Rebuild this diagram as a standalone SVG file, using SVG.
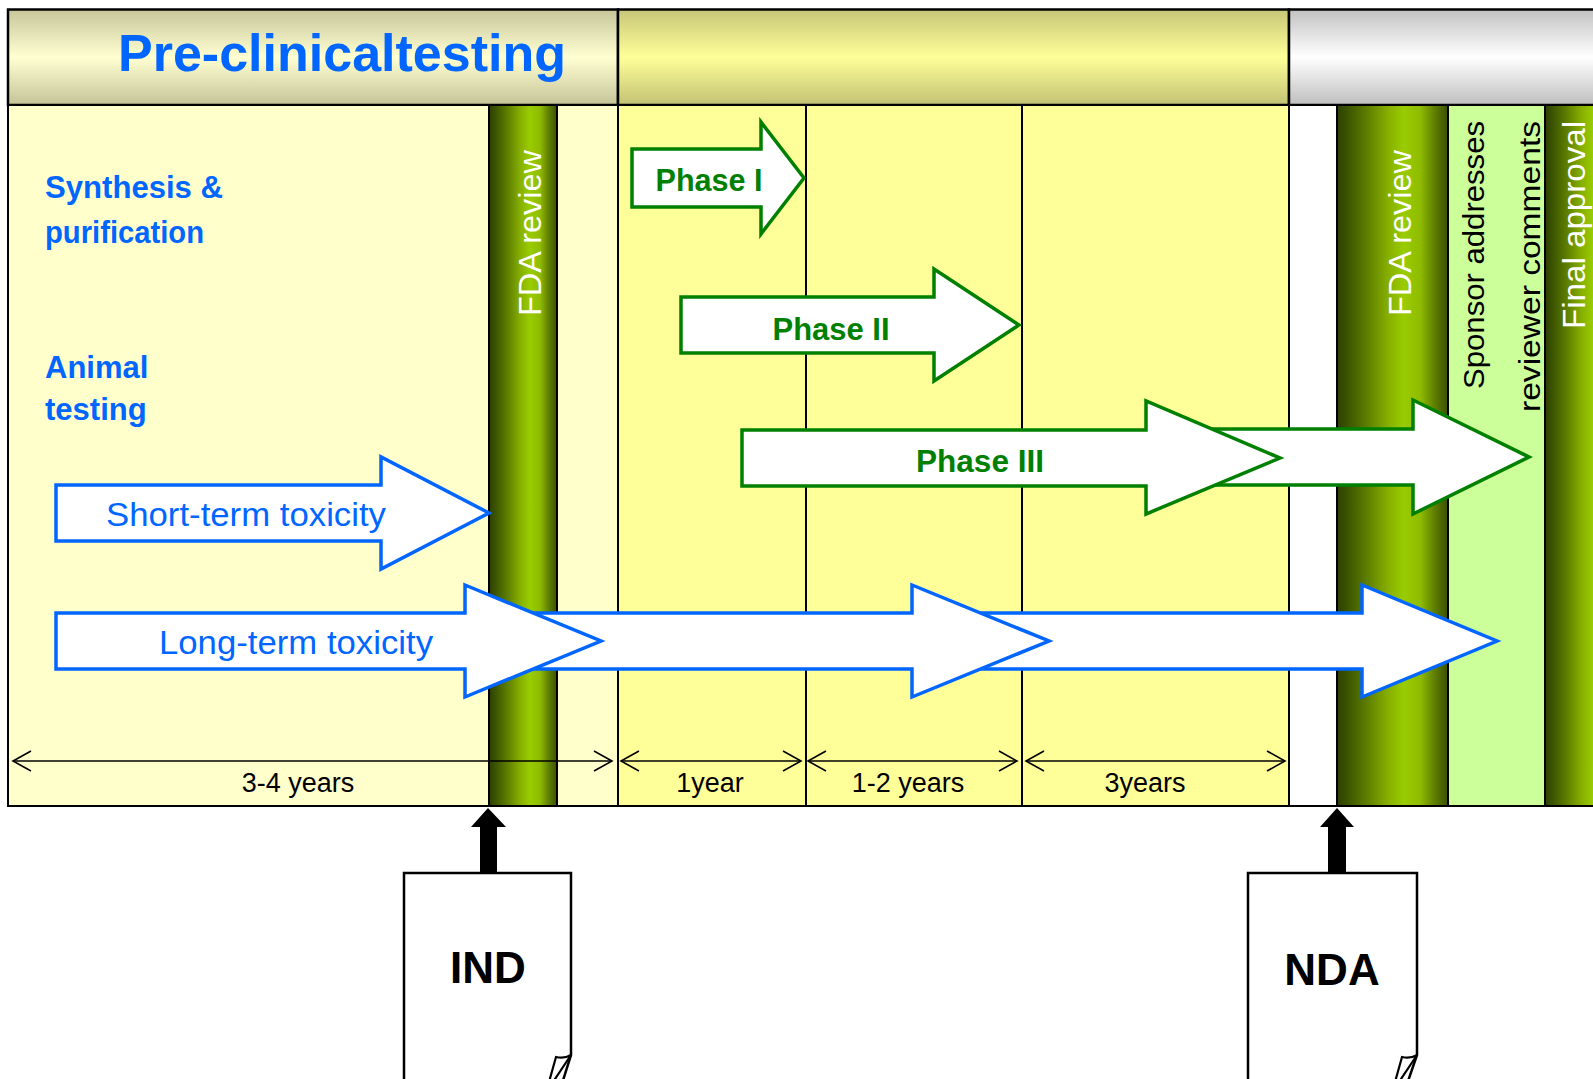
<svg xmlns="http://www.w3.org/2000/svg" width="1593" height="1079" viewBox="0 0 1593 1079">
<defs>
<linearGradient id="hdrL" x1="0" y1="0" x2="0" y2="1"><stop offset="0" stop-color="#c6c69a"/><stop offset="0.5" stop-color="#ffffd2"/><stop offset="1" stop-color="#c4c498"/></linearGradient>
<linearGradient id="hdrM" x1="0" y1="0" x2="0" y2="1"><stop offset="0" stop-color="#c6c678"/><stop offset="0.5" stop-color="#ffff99"/><stop offset="1" stop-color="#c2c274"/></linearGradient>
<linearGradient id="hdrR" x1="0" y1="0" x2="0" y2="1"><stop offset="0" stop-color="#c2c2c2"/><stop offset="0.5" stop-color="#ffffff"/><stop offset="1" stop-color="#bfbfbf"/></linearGradient>
<linearGradient id="fda" x1="0" y1="0" x2="1" y2="0"><stop offset="0" stop-color="#2c3e00"/><stop offset="0.12" stop-color="#405a00"/><stop offset="0.28" stop-color="#5f8000"/><stop offset="0.45" stop-color="#85ad00"/><stop offset="0.6" stop-color="#99cc00"/><stop offset="0.75" stop-color="#8fbc00"/><stop offset="0.88" stop-color="#5e7e00"/><stop offset="1" stop-color="#3a5000"/></linearGradient>
<marker id="dim" viewBox="-20 -12 22 24" refX="0" refY="0" markerWidth="22" markerHeight="24" markerUnits="userSpaceOnUse" orient="auto-start-reverse"><path d="M-18,-10 L0,0 L-18,10" fill="none" stroke="#000" stroke-width="1.6"/></marker>
</defs>
<style>
text{font-family:"Liberation Sans",Arial,sans-serif}
.col{stroke:none}
.ln{stroke:#000;stroke-width:2;fill:none}
.blk{fill:#fff;stroke:#0066ff;stroke-width:3.5;stroke-linejoin:miter}
.grn{fill:#fff;stroke:#008000;stroke-width:3.5;stroke-linejoin:miter}
.bt{fill:#0066ff;font-size:33px}
.gt{fill:#008000;font-size:32px;font-weight:bold;text-anchor:middle}
.lbl{fill:#0066ff;font-size:31px;font-weight:bold}
.vt{fill:#fff;font-size:32px}
.dt{fill:#000;font-size:27px;text-anchor:middle}
.dl{stroke:#000;stroke-width:1.6;fill:none;marker-start:url(#dim);marker-end:url(#dim)}
.doc{fill:#fff;stroke:#000;stroke-width:2.5}
.dtx{fill:#000;font-size:44px;font-weight:bold;text-anchor:middle}
</style>
<rect width="1593" height="1079" fill="#fff"/>

<g id="header">
<rect x="8" y="9.5" width="610" height="95.5" fill="url(#hdrL)" stroke="#000" stroke-width="2.5"/>
<rect x="618" y="9.5" width="671" height="95.5" fill="url(#hdrM)" stroke="#000" stroke-width="2.5"/>
<rect x="1289" y="9.5" width="320" height="95.5" fill="url(#hdrR)" stroke="#000" stroke-width="2.5"/>
<text x="342" y="71" fill="#0066ff" font-size="52" font-weight="bold" text-anchor="middle">Pre-clinicaltesting</text>
</g>

<g id="columns">
<rect class="col" x="8" y="105" width="610" height="701" fill="#ffffcc"/>
<rect class="col" x="489" y="105" width="68" height="701" fill="url(#fda)"/>
<rect class="col" x="618" y="105" width="671" height="701" fill="#ffff99"/>
<rect class="col" x="1289" y="105" width="48" height="701" fill="#ffffff"/>
<rect class="col" x="1337" y="105" width="111" height="701" fill="url(#fda)"/>
<rect class="col" x="1448" y="105" width="97" height="701" fill="#ccff99"/>
<rect class="col" x="1545" y="105" width="80" height="701" fill="url(#fda)"/>
<path class="ln" d="M8,105 V806 H1600 M8,105 H1600 M489,105 V806 M557,105 V806 M618,105 V806 M806,105 V806 M1022,105 V806 M1289,105 V806 M1337,105 V806 M1448,105 V806 M1545,105 V806"/>
</g>

<g id="fda-review-1"><text class="vt" transform="translate(541,316) rotate(-90)" textLength="166" lengthAdjust="spacingAndGlyphs">FDA review</text></g>
<g id="fda-review-2"><text class="vt" transform="translate(1411,316) rotate(-90)" textLength="166" lengthAdjust="spacingAndGlyphs">FDA review</text></g>
<g id="sponsor">
<text transform="translate(1484,389) rotate(-90)" fill="#000" font-size="30" textLength="268" lengthAdjust="spacingAndGlyphs">Sponsor addresses</text>
<text transform="translate(1540,412) rotate(-90)" fill="#000" font-size="30" textLength="291" lengthAdjust="spacingAndGlyphs">reviewer comments</text>
</g>
<g id="final-approval"><text class="vt" transform="translate(1585,329) rotate(-90)" textLength="208" lengthAdjust="spacingAndGlyphs">Final approval</text></g>

<g id="synthesis">
<text class="lbl" x="45" y="198" textLength="178" lengthAdjust="spacingAndGlyphs">Synthesis  &amp;</text>
<text class="lbl" x="45" y="243" textLength="159" lengthAdjust="spacingAndGlyphs">purification</text>
</g>
<g id="animal">
<text class="lbl" x="45" y="378">Animal</text>
<text class="lbl" x="45" y="420">testing</text>
</g>

<g id="phase1">
<path class="grn" d="M632,149 L761,149 L761,122 L804,178 L761,234 L761,207 L632,207 Z"/>
<text class="gt" x="709" y="191" textLength="107" lengthAdjust="spacingAndGlyphs">Phase  I</text>
</g>
<g id="phase2">
<path class="grn" d="M681,297 L934,297 L934,269 L1019,325 L934,381 L934,353 L681,353 Z"/>
<text class="gt" x="831" y="340" textLength="117" lengthAdjust="spacingAndGlyphs">Phase II</text>
</g>
<g id="phase3">
<path class="grn" d="M1165,429 L1413,429 L1413,400 L1529,457 L1413,514 L1413,485 L1165,485 Z"/>
<path class="grn" d="M742,430 L1146,430 L1146,401 L1280,458 L1146,514 L1146,486 L742,486 Z"/>
<text class="gt" x="980" y="472" textLength="128" lengthAdjust="spacingAndGlyphs">Phase  III</text>
</g>

<g id="short-term">
<path class="blk" d="M56,485 L381,485 L381,457 L489,513 L381,569 L381,541 L56,541 Z"/>
<text class="bt" x="246" y="526" text-anchor="middle" textLength="280" lengthAdjust="spacingAndGlyphs">Short-term  toxicity</text>
</g>
<g id="long-term">
<path class="blk" d="M940,613 L1362,613 L1362,585 L1497,641 L1362,697 L1362,669 L940,669 Z"/>
<path class="blk" d="M495,613 L912,613 L912,585 L1049,641 L912,697 L912,669 L495,669 Z"/>
<path class="blk" d="M56,613 L465,613 L465,585 L601,641 L465,697 L465,669 L56,669 Z"/>
<text class="bt" x="296" y="654" text-anchor="middle" textLength="274" lengthAdjust="spacingAndGlyphs">Long-term  toxicity</text>
</g>

<g id="connectors">
<line class="dl" x1="13" y1="761" x2="612" y2="761"/>
<line class="dl" x1="621" y1="761" x2="801" y2="761"/>
<line class="dl" x1="808" y1="761" x2="1017" y2="761"/>
<line class="dl" x1="1026" y1="761" x2="1285" y2="761"/>
<polygon points="488,808 506,827 497,827 497,875 480,875 480,827 471,827" fill="#000"/>
<polygon points="1337,808 1354,827 1346,827 1346,875 1328,875 1328,827 1320,827" fill="#000"/>
</g>

<g id="durations">
<text class="dt" x="298" y="792">3-4 years</text>
<text class="dt" x="710" y="792">1year</text>
<text class="dt" x="908" y="792">1-2 years</text>
<text class="dt" x="1145" y="792">3years</text>
</g>

<g id="ind">
<path class="doc" d="M404,1090 L404,873 L571,873 L571,1055 L560,1090 L404,1090"/>
<path d="M571,1055 Q564,1059 556,1057 L549,1082 M571,1055 L553,1082" fill="#fff" stroke="#000" stroke-width="2.2"/>
<text class="dtx" x="488" y="983">IND</text>
</g>
<g id="nda">
<path class="doc" d="M1248,1090 L1248,873 L1417,873 L1417,1055 L1405,1090 L1248,1090"/>
<path d="M1417,1055 Q1410,1059 1402,1057 L1395,1082 M1417,1055 L1399,1082" fill="#fff" stroke="#000" stroke-width="2.2"/>
<text class="dtx" x="1332" y="985">NDA</text>
</g>
</svg>
